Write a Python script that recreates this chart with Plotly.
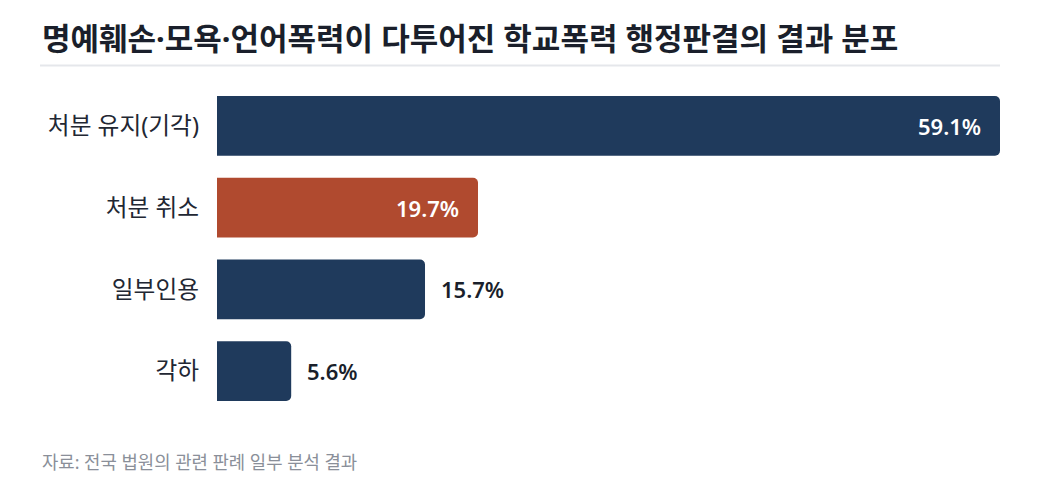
import plotly.graph_objects as go

categories = ["처분 유지(기각)", "처분 취소", "일부인용", "각하"]
values = [59.1, 19.7, 15.7, 5.6]
highlight = "처분 취소"
value_labels = [f"{v:.1f}%" for v in values]

title_text = "명예훼손·모욕·언어폭력이 다투어진 학교폭력 행정판결의 결과 분포"
source_text = "자료: 전국 법원의 관련 판례 일부 분석 결과"

NAVY = "#1f3a5c"
RUST = "#b04a2f"
FONT = "Noto Sans, Noto Sans CJK KR"

# page is offset by the body margin (8px); work in page pixels, convert below
OFF = 8
W, H = 1040 - OFF, 495 - OFF
PL, PR, PT, PB = 217, 1000, 85, 412  # plot box in page pixels

colors = [RUST if c == highlight else NAVY for c in categories]

fig = go.Figure()
fig.add_trace(go.Bar(
    y=categories,
    x=values,
    orientation="h",
    marker=dict(color=colors, cornerradius=5, line=dict(width=0)),
    hoverinfo="skip",
))

inside_threshold = 18
annotations = []
for c, v, lab in zip(categories, values, value_labels):
    inside = v >= inside_threshold
    annotations.append(dict(
        x=v, y=c, xref="x", yref="y",
        text=lab, showarrow=False,
        xanchor="right" if inside else "left",
        xshift=-17 if inside else 14,
        font=dict(family=FONT, size=22, color="#ffffff" if inside else "#1a1f2b", weight=600),
    ))

pw = PR - PL
ph = PB - PT
def px_x(x):
    return (x - PL) / pw
def px_y(y):
    return 1 - (y - PT) / ph

annotations.append(dict(
    x=px_x(40), y=px_y(38), xref="paper", yref="paper", text=f"<b>{title_text}</b>",
    showarrow=False, xanchor="left", yanchor="middle",
    font=dict(family=FONT, size=31, color="#1a1f2b"),
))
annotations.append(dict(
    x=px_x(40), y=px_y(462), xref="paper", yref="paper", text=source_text,
    showarrow=False, xanchor="left", yanchor="middle",
    font=dict(family=FONT, size=17.8, color="#8a8f99"),
))

fig.update_layout(
    width=W, height=H,
    margin=dict(l=PL - OFF, r=W - (PR - OFF), t=PT - OFF, b=H - (PB - OFF)),
    paper_bgcolor="white", plot_bgcolor="white",
    bargap=0.27,
    showlegend=False,
    xaxis=dict(range=[0, max(values)], visible=False, fixedrange=True),
    yaxis=dict(autorange="reversed", showgrid=False, zeroline=False, showline=False,
               ticks="", ticklabelstandoff=17, fixedrange=True,
               tickfont=dict(family=FONT, size=23.7, color="#222733")),
    font=dict(family=FONT),
    annotations=annotations,
)

fig.add_shape(type="line", xref="paper", yref="paper",
              x0=px_x(40), x1=px_x(1000), y0=px_y(65.5), y1=px_y(65.5),
              line=dict(color="#e5e7eb", width=2))

fig.write_html("out.html", config={"displayModeBar": False})
